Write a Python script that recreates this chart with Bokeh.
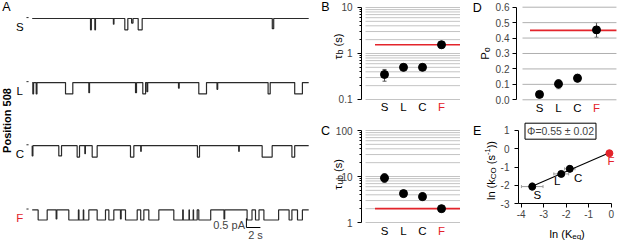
import numpy as np
from math import pi
from bokeh.plotting import figure
from bokeh.layouts import row, column
from bokeh.models import (Range1d, FixedTicker, Label, Whisker, TeeHead,
                          ColumnDataSource, NumeralTickFormatter)
from bokeh.embed import file_html
from bokeh.resources import INLINE

FONT = "Liberation Sans"
RED = "#e3242b"
GRID = "#c4c4c4"

# ---------------- data ----------------
categories = ["S", "L", "C", "F"]
cat_x = [1, 2, 3, 4]
cat_label_colors = ["black", "black", "black", RED]
point_colors_E = ["black", "black", "black", RED]

tau_b = [0.35, 0.50, 0.50, 1.55]
tau_b_lo = [0.25, 0.41, 0.45, 1.30]
tau_b_hi = [0.45, 0.60, 0.56, 1.82]
tau_b_ref = 1.55

tau_ub = [9.3, 4.25, 3.65, 2.0]
tau_ub_lo = [7.4, 3.6, 3.0, 1.72]
tau_ub_hi = [11.6, 4.9, 4.5, 2.3]
tau_ub_ref = 2.0

po = [0.035, 0.103, 0.140, 0.453]
po_lo = [0.030, 0.072, 0.115, 0.405]
po_hi = [0.040, 0.131, 0.165, 0.500]
po_ref = 0.45

ln_keq = [-3.51, -2.22, -1.84, -0.08]
ln_keq_err = [0.48, 0.33, 0.23, 0.08]
ln_kco = [-2.06, -1.37, -1.09, -0.24]
ln_kco_err = [0.21, 0.10, 0.18, 0.10]
phi_text = "Φ=0.55 ± 0.02"

logB_ticks = [0.1, 1, 10]
logB_minor = [0.2, 0.3, 0.4, 0.5, 0.6, 0.7, 0.8, 0.9, 2, 3, 4, 5, 6, 7, 8, 9]
logC_ticks = [1, 10, 100]
logC_minor = [2, 3, 4, 5, 6, 7, 8, 9, 20, 30, 40, 50, 60, 70, 80, 90]
po_ticks = [0.0, 0.1, 0.2, 0.3, 0.4, 0.5, 0.6]
E_xticks = [-4, -3, -2, -1, 0]
E_yticks = [-3, -2, -1, 0, 1]

# single-channel traces: open events (s) read from the records
trace_names = ["S", "L", "C", "F"]
trace_name_colors = ["black", "black", "black", RED]
trace_offsets = [0.0, -3.5, -6.95, -10.46]
trace_amp = [0.62, 0.62, 0.62, 0.55]
trace_duration = 39.5

S_open_start = [8.33, 8.95, 11.60, 13.23, 14.20, 15.14, 34.30]
S_open_end = [8.45, 9.04, 11.68, 13.66, 14.40, 15.71, 34.50]
S_open_depth = [1, 1, 0.5, 1, 0.4, 1, 0.9]

L_open_start = [0.09, 0.57, 4.76, 8.09, 14.76, 15.80, 16.40, 20.90, 23.80, 26.40, 33.70, 37.50]
L_open_end = [0.20, 0.68, 5.80, 8.19, 14.90, 16.20, 16.50, 21.00, 24.90, 26.50, 34.00, 38.60]
L_open_depth = [1, 1, 1, 0.9, 0.9, 1, 0.8, 0.5, 1, 0.6, 1, 1]

C_open_start = [0.00, 3.80, 6.42, 7.52, 8.57, 14.04, 15.50, 23.60, 29.50, 32.85, 37.10]
C_open_end = [0.10, 4.19, 6.76, 7.60, 9.28, 14.52, 15.58, 23.90, 29.58, 34.28, 37.50]
C_open_depth = [0.9, 0.9, 1, 0.7, 1, 1, 0.5, 1, 0.5, 1, 1]

F_open_start = [0.85, 3.42, 5.23, 6.68, 7.36, 9.28, 10.95, 12.61, 13.33, 15.50, 16.66,
                20.23, 21.58, 22.46, 23.05, 23.80, 27.40, 30.70, 31.90, 33.10, 36.70, 37.90]
F_open_end = [2.14, 3.52, 6.60, 7.30, 8.09, 10.47, 11.66, 12.71, 15.00, 15.95, 18.09,
              21.50, 22.40, 23.00, 23.57, 25.50, 27.50, 31.40, 32.40, 35.20, 37.10, 38.60]
F_open_depth = [1, 0.9, 1, 1, 1, 1, 1, 0.9, 1, 1, 1, 1, 1, 1, 1, 1, 0.9, 1, 1, 1, 1, 1]

scale_pA = 0.5
scale_s = 2.0

# ---------------- helpers ----------------
W = {' ': 0.278, '(': 0.333, ')': 0.333, 's': 0.5, 'b': 0.556, 'u': 0.556, 'τ': 0.46,
     'P': 0.667, 'o': 0.556, 'l': 0.222, 'n': 0.556, 'k': 0.5, 'C': 0.722, 'O': 0.778,
     '-': 0.333, '1': 0.556, 'K': 0.667, 'e': 0.556, 'q': 0.556}


def tw(t, fs):
    return sum(W.get(c, 0.556) for c in t) * fs


def rich_label(p, segs, cx, cy, rotated):
    total = sum(tw(t, fs) for t, fs, sh in segs)
    main = segs[0][1]
    pos = -total / 2.0
    for t, fs, sh in segs:
        lead = len(t) - len(t.lstrip(' '))
        trail = len(t) - len(t.rstrip(' '))
        core = t.strip(' ')
        pos += lead * W[' '] * fs
        if rotated:
            x, y, ang = cx + 0.35 * main - sh, cy + pos, pi / 2
        else:
            x, y, ang = cx + pos, cy - 0.35 * main + sh, 0
        p.add_layout(Label(x=x, y=y, x_units='screen', y_units='screen', text=core,
                           angle=ang, text_font=FONT, text_font_size=f"{fs}px",
                           text_align='left', text_baseline='alphabetic', text_color='black'))
        pos += tw(core, fs) + trail * W[' '] * fs


def screen_label(p, x, y, text, size, color='black', angle=0, style='normal'):
    p.add_layout(Label(x=x, y=y, x_units='screen', y_units='screen', text=text, angle=angle,
                       text_font=FONT, text_font_size=f"{size}px", text_color=color,
                       text_align='center', text_baseline='middle', text_font_style=style))


def mkfig(w, h, **kw):
    p = figure(width=w, height=h, toolbar_location=None, output_backend="svg",
               min_border_left=0, min_border_right=0, min_border_top=0, min_border_bottom=0, **kw)
    p.outline_line_color = None
    p.background_fill_color = "white"
    p.border_fill_color = "white"
    p.grid.visible = False
    return p


def style_axis(ax, size="10px", standoff=5):
    ax.axis_line_color = "black"
    ax.major_tick_line_color = "black"
    ax.minor_tick_line_color = "black"
    ax.major_tick_out = 4
    ax.major_tick_in = 0
    ax.minor_tick_out = 2
    ax.minor_tick_in = 0
    ax.major_label_text_font = FONT
    ax.major_label_text_font_size = size
    ax.major_label_standoff = standoff


def category_panel(p, vals, lo, hi, ref, x_end, grid_vals, grid_x0, grid_color, y_bottom, label_dy):
    n = len(grid_vals)
    p.segment(x0=[grid_x0] * n, x1=[x_end] * n, y0=grid_vals, y1=grid_vals,
              line_color=grid_color, line_width=1)
    src = ColumnDataSource(dict(x=cat_x, y=vals, lo=lo, hi=hi))
    p.segment(x0=0.5, x1=x_end, y0=ref, y1=ref, line_color=RED, line_width=1.6)
    p.add_layout(Whisker(base='x', lower='lo', upper='hi', source=src, dimension='height',
                         line_color='#555555', line_width=1,
                         upper_head=TeeHead(size=4, line_color='#555555', line_width=1),
                         lower_head=TeeHead(size=4, line_color='#555555', line_width=1)))
    p.scatter('x', 'y', source=src, size=8, color='black')
    for x, name, col in zip(cat_x, categories, cat_label_colors):
        p.add_layout(Label(x=x, y=y_bottom, y_offset=label_dy, text=name,
                           text_color=col, text_align='center', text_baseline='middle',
                           text_font=FONT, text_font_size="11.5px"))


# ---------------- panel A: traces ----------------
pA = mkfig(310, 240, x_range=Range1d(-4.529, 39.757), y_range=Range1d(-12.13, 0.984),
           x_axis_location=None, y_axis_location=None)

events = [(S_open_start, S_open_end, S_open_depth), (L_open_start, L_open_end, L_open_depth),
          (C_open_start, C_open_end, C_open_depth), (F_open_start, F_open_end, F_open_depth)]
for (st, en, dp), off, amp, name, col in zip(events, trace_offsets, trace_amp, trace_names, trace_name_colors):
    xs, ys = [0.0], [off]
    for s, e, d in zip(st, en, dp):
        lvl = off - amp * d
        xs += [s, s, e, e]
        ys += [off, lvl, lvl, off]
    xs.append(trace_duration)
    ys.append(off)
    pA.line(xs, ys, line_color="#2a2a2a", line_width=1.2)
    pA.segment(x0=-0.82, x1=-0.52, y0=off + 0.05, y1=off + 0.05, line_color="#2a2a2a", line_width=1)
    pA.add_layout(Label(x=-1.77, y=off - 0.44, text=name, text_color=col, text_align='center',
                        text_baseline='middle', text_font=FONT, text_font_size="11.5px"))

sb_t, sb_y = 30.6, -11.42
pA.line([sb_t, sb_t, sb_t + scale_s], [sb_y + scale_pA, sb_y, sb_y], line_color="black", line_width=1)
pA.add_layout(Label(x=sb_t - 0.2, y=sb_y + 0.16, text=f"{scale_pA} pA", text_align='right',
                    text_baseline='middle', text_font=FONT, text_font_size="11px"))
pA.add_layout(Label(x=sb_t + 1.3, y=sb_y - 0.4, text=f"{scale_s:g} s", text_align='center',
                    text_baseline='middle', text_font=FONT, text_font_size="11px"))
screen_label(pA, 6, 234, "A", 12.5)
screen_label(pA, 6, 120, "Position 508", 11, angle=pi / 2, style='bold')

# ---------------- panel B ----------------
pB = mkfig(150, 120, x_range=Range1d(-2.895, 5.0), y_range=Range1d(0.03495, 14.19),
           y_axis_type="log", x_axis_location=None)
pB.yaxis.ticker = FixedTicker(ticks=logB_ticks, minor_ticks=logB_minor)
pB.yaxis.major_label_overrides = {0.1: "0.1", 1: "1", 10: "10"}
pB.yaxis.fixed_location = -0.21
pB.yaxis.bounds = (0.1, 10)
style_axis(pB.yaxis[0])
category_panel(pB, tau_b, tau_b_lo, tau_b_hi, tau_b_ref, 5.0, logB_ticks + logB_minor,
               0.0, GRID, 0.1, -8)
screen_label(pB, 15, 114, "B", 12.5)
rich_label(pB, [("τ", 11.5, 0), ("b", 8.5, -2.5), (" (s)", 11, 0)], 23, 74, True)

# ---------------- panel C ----------------
pC = mkfig(150, 120, x_range=Range1d(-2.895, 5.0), y_range=Range1d(0.4063, 165.0),
           y_axis_type="log", x_axis_location=None)
pC.yaxis.ticker = FixedTicker(ticks=logC_ticks, minor_ticks=logC_minor)
pC.yaxis.major_label_overrides = {1: "1", 10: "10", 100: "100"}
pC.yaxis.fixed_location = -0.21
pC.yaxis.bounds = (1, 100)
style_axis(pC.yaxis[0])
category_panel(pC, tau_ub, tau_ub_lo, tau_ub_hi, tau_ub_ref, 5.0, logC_ticks + logC_minor,
               0.0, GRID, 1, -8)
screen_label(pC, 15, 110, "C", 12.5)
rich_label(pC, [("τ", 11.5, 0), ("ub", 8.5, -2.5), (" (s)", 11, 0)], 23, 66, True)

# ---------------- panel D ----------------
pD = mkfig(157, 120, x_range=Range1d(-3.158, 5.105), y_range=Range1d(-0.1342, 0.6434),
           x_axis_location=None)
pD.yaxis.ticker = FixedTicker(ticks=po_ticks, minor_ticks=[])
pD.yaxis.formatter = NumeralTickFormatter(format="0.0")
pD.yaxis.fixed_location = -0.21
pD.yaxis.bounds = (0, 0.6)
style_axis(pD.yaxis[0], standoff=3)
category_panel(pD, po, po_lo, po_hi, po_ref, 5.05, po_ticks, 0.105, "#b0b0b0", 0.0, -8)
screen_label(pD, 16.7, 113, "D", 12.5)
rich_label(pD, [("P", 11.5, 0), ("o", 8.5, -2.5)], 20, 67, True)

# ---------------- panel E ----------------
pE = mkfig(157, 120, x_range=Range1d(-6.698, 0.28), y_range=Range1d(-5.002, 1.5456))
pE.xaxis.ticker = FixedTicker(ticks=E_xticks, minor_ticks=[])
pE.yaxis.ticker = FixedTicker(ticks=E_yticks, minor_ticks=[])
pE.xaxis.major_label_overrides = {v: str(v) for v in E_xticks}
pE.yaxis.major_label_overrides = {v: str(v) for v in E_yticks}
pE.yaxis.fixed_location = -4.12
pE.yaxis.bounds = (-3, 1)
pE.xaxis.fixed_location = -3
pE.xaxis.bounds = (-4.12, 0.02)
style_axis(pE.yaxis[0], standoff=5)
style_axis(pE.xaxis[0], standoff=2)

srcE = ColumnDataSource(dict(x=ln_keq, y=ln_kco,
                             xl=[a - b for a, b in zip(ln_keq, ln_keq_err)],
                             xh=[a + b for a, b in zip(ln_keq, ln_keq_err)],
                             yl=[a - b for a, b in zip(ln_kco, ln_kco_err)],
                             yh=[a + b for a, b in zip(ln_kco, ln_kco_err)],
                             c=point_colors_E))
coef = np.polyfit(ln_keq, ln_kco, 1)
fx = [min(ln_keq), max(ln_keq)]
pE.line(fx, list(np.polyval(coef, fx)), line_color="black", line_width=1.1)
for dim, base, lo, hi in [("width", "y", "xl", "xh"), ("height", "x", "yl", "yh")]:
    pE.add_layout(Whisker(base=base, lower=lo, upper=hi, source=srcE, dimension=dim,
                          line_color="#9a9a9a", line_width=1,
                          upper_head=TeeHead(size=3, line_color="#9a9a9a"),
                          lower_head=TeeHead(size=3, line_color="#9a9a9a")))
pE.scatter('x', 'y', source=srcE, size=7, color='c')
label_offsets = [(5, -8), (-4, -7.4), (8.4, -9.4), (1.7, -7.3)]
for x, y, name, col, (dx, dy) in zip(ln_keq, ln_kco, categories, cat_label_colors, label_offsets):
    pE.add_layout(Label(x=x, y=y, x_offset=dx, y_offset=dy, text=name, text_color=col,
                        text_align='center', text_baseline='middle', text_font=FONT,
                        text_font_size="11.5px"))
pE.add_layout(Label(x=100, y=109.3, x_units='screen', y_units='screen', text=phi_text,
                    text_font=FONT, text_font_size="10.5px", text_align='center',
                    text_baseline='middle', border_line_color="black", border_line_width=1,
                    background_fill_color="white", padding=2))
screen_label(pE, 16.7, 110, "E", 12.5)
rich_label(pE, [("ln (k", 11, 0), ("CO", 8, -2.5), (" (s", 11, 0), ("-1", 7.5, 4), ("))", 11, 0)],
           26.7, 70, True)
rich_label(pE, [("ln (K", 11, 0), ("eq", 8, -2.5), (")", 11, 0)], 106.7, 10, False)

layout = row(pA, column(pB, pC), column(pD, pE))
open("out.html", "w").write(file_html(layout, INLINE))
